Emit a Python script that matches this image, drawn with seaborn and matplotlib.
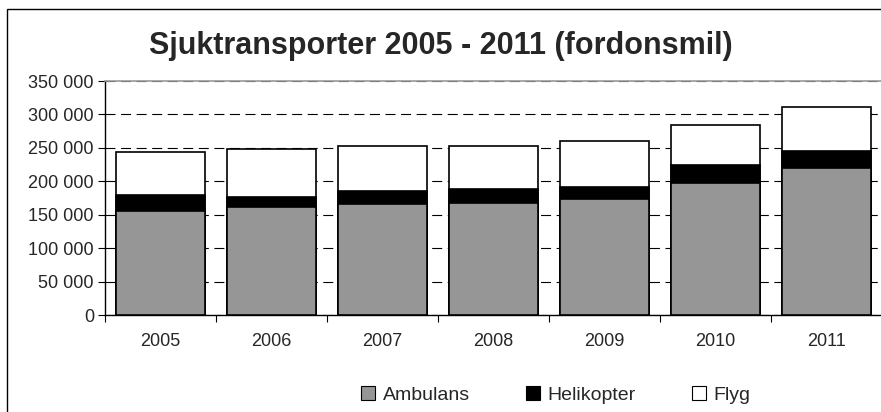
import numpy as np
import pandas as pd
import matplotlib
matplotlib.use("Agg")
import matplotlib.pyplot as plt
from matplotlib.patches import Rectangle, Patch
from matplotlib.ticker import FuncFormatter, MultipleLocator, FixedLocator
import seaborn as sns

years = ["2005", "2006", "2007", "2008", "2009", "2010", "2011"]
ambulans = [156000, 161000, 166000, 168000, 173000, 198000, 220000]
helikopter = [24000, 16000, 19000, 20000, 19000, 27000, 25000]
flyg = [64000, 71000, 68000, 65000, 68000, 59000, 66000]
series_names = ["Ambulans", "Helikopter", "Flyg"]
title = "Sjuktransporter 2005 - 2011 (fordonsmil)"

sns.set_style("white")
plt.rcParams["font.family"] = ["Liberation Sans", "DejaVu Sans"]

df = pd.DataFrame({"year": years, "Ambulans": ambulans,
                   "Helikopter": helikopter, "Flyg": flyg})
df["lvl1"] = df["Ambulans"]
df["lvl2"] = df["Ambulans"] + df["Helikopter"]
df["lvl3"] = df["lvl2"] + df["Flyg"]

fig = plt.figure(figsize=(8.81, 4.12), dpi=100)
ax = fig.add_axes([105 / 881, 1 - 315 / 412, 777 / 881, 234 / 412])

colors = {"Ambulans": "#969696", "Helikopter": "#000000", "Flyg": "#ffffff"}
for col, name in [("lvl3", "Flyg"), ("lvl2", "Helikopter"), ("lvl1", "Ambulans")]:
    sns.barplot(data=df, x="year", y=col, color=colors[name], saturation=1,
                edgecolor="black", linewidth=1.2, width=0.8, ax=ax, zorder=3)

ax.set_ylim(0, 350000)
ax.set_xlim(-0.5, len(years) - 0.5)
ax.yaxis.set_major_locator(MultipleLocator(50000))
ax.yaxis.set_major_formatter(FuncFormatter(lambda v, p: f"{int(v):,}".replace(",", " ")))
ax.set_xlabel("")
ax.set_ylabel("")

# gridlines
ax.yaxis.grid(True, linestyle=(0, (9, 5)), color="black", linewidth=0.8, zorder=0)
ax.xaxis.grid(False)
ax.set_axisbelow(True)

for s in ["left", "bottom"]:
    ax.spines[s].set_color("black")
    ax.spines[s].set_linewidth(1.0)
for s in ["top", "right"]:
    ax.spines[s].set_color("#999999")
    ax.spines[s].set_linewidth(1.2)

ax.tick_params(axis="y", direction="out", length=5, width=0.8, color="black",
               labelsize=13, pad=3, left=True)
ax.tick_params(axis="x", which="major", length=0, labelsize=13, pad=13)
ax.xaxis.set_minor_locator(FixedLocator(np.arange(-0.5, len(years), 1.0)))
ax.tick_params(axis="x", which="minor", direction="out", length=5, width=0.8,
               color="black", bottom=True)

fig.text(0.5, 1 - 46 / 412, title, ha="center", va="center",
         fontsize=22, fontweight="bold")

handles = [Patch(facecolor=colors[n], edgecolor="black", linewidth=0.8, label=n)
           for n in series_names]
fig.legend(handles=handles, loc="center", bbox_to_anchor=(556 / 881, 1 - 395 / 412),
           ncol=3, frameon=False, fontsize=14, handlelength=0.7,
           handleheight=0.7, handletextpad=0.4, columnspacing=2.9)

fig.patches.append(Rectangle((7 / 881, -0.1), 1.2, 1 - 9 / 412 + 0.1,
                             transform=fig.transFigure, fill=False,
                             edgecolor="black", linewidth=1.0, clip_on=False))

fig.savefig("out.png", dpi=100)
